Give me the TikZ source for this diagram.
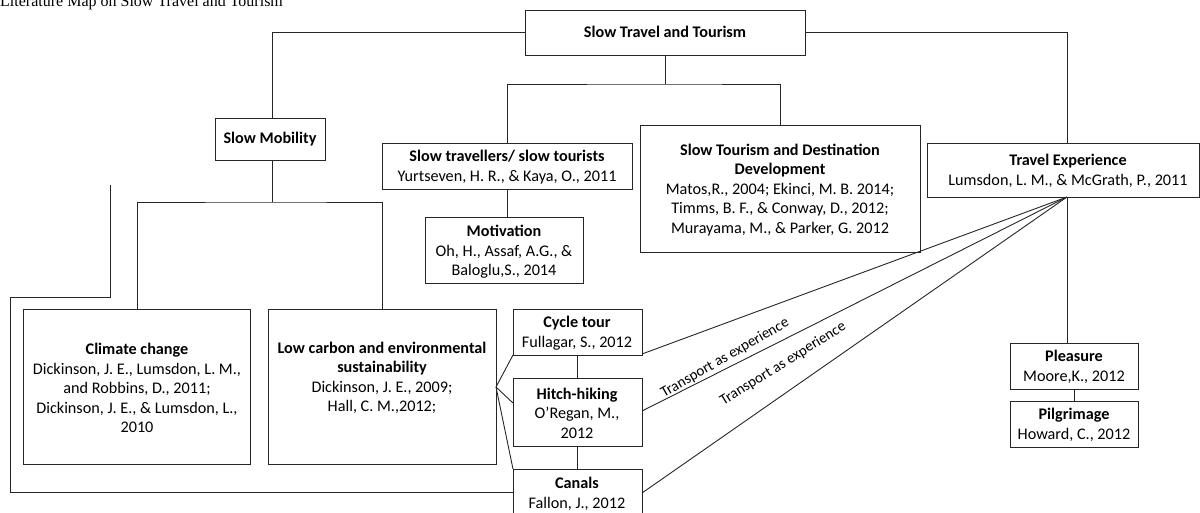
\documentclass[tikz,border=0pt]{standalone}
\usepackage{fontspec}
\setmainfont{Carlito}
\newfontfamily\titlefont{Liberation Serif}
% box from corner (x1,y1) to (x2,y2), named #1
\newcommand\mkbox[5]{\node[box, minimum width={#4-#2}, minimum height={#5-#3}] (#1) at ({(#2+#4)/2},{(#3+#5)/2}) {};}
\begin{document}
\begin{tikzpicture}[x=1pt,y=-1pt,
  box/.style={draw=black!85, line width=0.9pt, inner sep=0pt, outer sep=0pt},
  txt/.style={align=center, font=\fontsize{16.2}{19.5}\selectfont, inner sep=0pt},
  ln/.style={draw=black!85, line width=0.9pt},
  lbl/.style={font=\fontsize{15}{17}\selectfont, inner sep=0pt}]
\useasboundingbox (0,0) rectangle (1200,512);

% title
\node[anchor=base west, inner sep=0pt, font=\titlefont\fontsize{16}{18}\selectfont] (title) at (0,6) {Literature Map on Slow Travel and Tourism};

% boxes
\mkbox{top}{525}{10}{805}{55}
\mkbox{smob}{215}{118}{325}{160}
\mkbox{stv}{382}{143}{632}{189}
\mkbox{mot}{425}{217}{583}{283}
\mkbox{std}{640}{125}{920}{252}
\mkbox{te}{927}{143}{1199}{197}
\mkbox{clim}{23}{309}{250}{464}
\mkbox{lowc}{268}{309}{496}{464}
\mkbox{cyc}{513}{309}{642}{355}
\mkbox{hitch}{513}{378}{642}{446}
\mkbox{can}{513}{469}{642}{522}
\mkbox{pleas}{1010}{343}{1138}{389}
\mkbox{pilg}{1010}{401}{1138}{447}

% texts
\node[txt] (topt) at (665,32) {\textbf{Slow Travel and Tourism}};
\node[txt] (smobt) at (270,139) {\textbf{Slow Mobility}};
\node[txt] (stvt) at (507,167) {\textbf{Slow travellers/ slow tourists}\\Yurtseven, H. R., \& Kaya, O., 2011};
\node[txt] (mott) at (504,252) {\textbf{Motivation}\\Oh, H., Assaf, A.G., \&\\Baloglu,S., 2014};
\node[txt] (stdt) at (780,190) {\textbf{Slow Tourism and Destination}\\\textbf{Development}\\Matos,R., 2004; Ekinci, M. B. 2014;\\Timms, B. F., \& Conway, D., 2012;\\Murayama, M., \& Parker, G. 2012};
\node[txt] (tet) at (1068,171) {\textbf{Travel Experience}\\Lumsdon, L. M., \& McGrath, P., 2011};
\node[txt] (climt) at (137,388) {\textbf{Climate change}\\Dickinson, J. E., Lumsdon, L. M.,\\and Robbins, D., 2011;\\Dickinson, J. E., \& Lumsdon, L.,\\2010};
\node[txt] (lowct) at (382,378) {\textbf{Low carbon and environmental}\\\textbf{sustainability}\\Dickinson, J. E., 2009;\\Hall, C. M.,2012;};
\node[txt] (cyct) at (577,333) {\textbf{Cycle tour}\\Fullagar, S., 2012};
\node[txt] (hitcht) at (577,413) {\textbf{Hitch-hiking}\\O’Regan, M.,\\2012};
\node[txt] (cant) at (577,494) {\textbf{Canals}\\Fallon, J., 2012};
\node[txt] (pleast) at (1074,367) {\textbf{Pleasure}\\Moore,K., 2012};
\node[txt] (pilgt) at (1074,425) {\textbf{Pilgrimage}\\Howard, C., 2012};

% junction points
\coordinate (jtop) at (665,84);
\coordinate (jmob) at (272,202);
\coordinate (teTop) at (1067,143);
\coordinate (teBot) at (1067,197);
\coordinate (lowcR) at (496,387);
\coordinate (loopA) at (110,185);
\coordinate (loopB) at (10,297);

% tree connectors
\draw[ln] (top.west) -| (smob.north -| jmob);
\draw[ln] (top.east) -| (teTop);
\draw[ln] (top.south) -- (jtop);
\draw[ln] (stv.north) |- (jtop) -| (std.north);
\draw[ln] (stv.south) -- (stv.south |- mot.north);
\draw[ln] (smob.south -| jmob) -- (jmob);
\draw[ln] (clim.north -| 137,0) |- (jmob) -| (lowc.north -| 382,0);
\draw[ln] (teBot) -- (pleas.north -| teBot);
\draw[ln] (pleas.south) -- (pilg.north);
\draw[ln] (cyc.south) -- (hitch.north);
\draw[ln] (hitch.south) -- (can.north);

% outer loop from slow mobility to canals
\draw[ln] (loopA) |- (loopB) |- (can.west |- 0,492);

% low carbon to the modes
\draw[ln] (lowcR) -- (cyc.south west);
\draw[ln] (lowcR) -- (hitch.west |- 0,403);
\draw[ln] (lowcR) -- (can.north west);

% transport as experience
\draw[ln] (teBot) -- (cyc.east |- 0,354);
\draw[ln] (teBot) -- (hitch.east |- 0,411);
\draw[ln] (teBot) -- (can.east |- 0,493);
\node[lbl, rotate=30] (lab1) at (725,358) {Transport as experience};
\node[lbl, rotate=32] (lab2) at (783,364) {Transport as experience};
\end{tikzpicture}
\end{document}
